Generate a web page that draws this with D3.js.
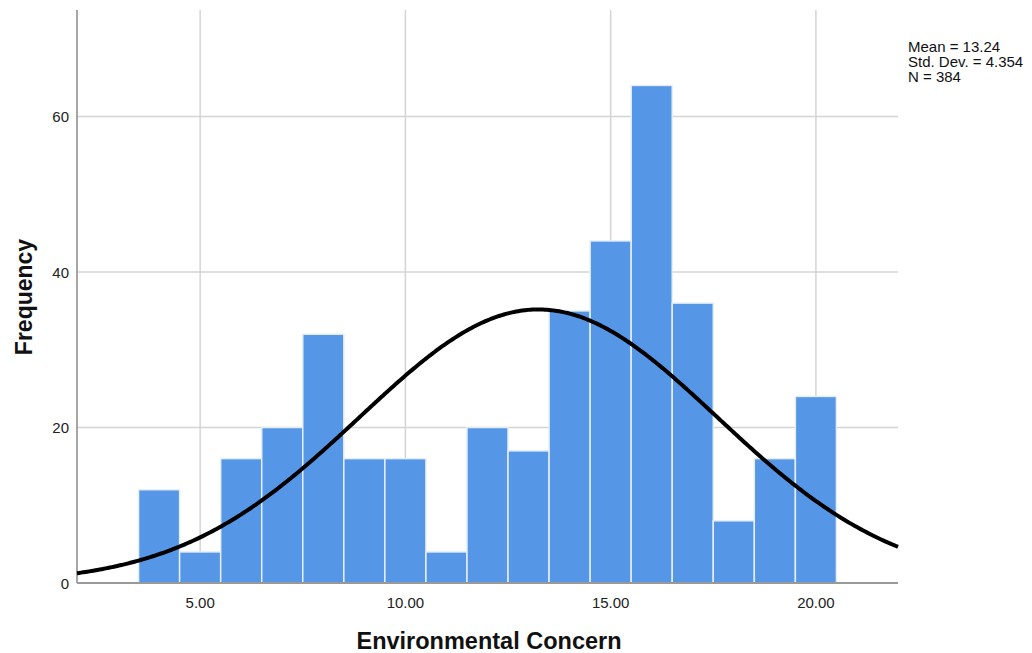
<!DOCTYPE html>
<html><head><meta charset="utf-8">
<script src="https://cdn.jsdelivr.net/npm/d3@7"></script>
<style>body{margin:0;background:#fff}</style>
</head><body>
<svg id="c" width="1032" height="653"></svg>
<script>
const binCenters = [4,5,6,7,8,9,10,11,12,13,14,15,16,17,18,19,20];
const frequencies = [12,4,16,20,32,16,16,4,20,17,35,44,64,36,8,16,24];
const xTicks = [5,10,15,20];
const yTicks = [0,20,40,60];
const meanVal = 13.24, sdVal = 4.354, nVal = 384;
const statsLines = ["Mean = 13.24","Std. Dev. = 4.354","N = 384"];

const svg = d3.select("#c");
const L=77, R=898, T=10, B=583;
const x = d3.scaleLinear().domain([2,22]).range([L,R]);
const y = d3.scaleLinear().domain([0,73.7]).range([B,T]);
const font = "'Liberation Sans', Arial, sans-serif";

// grid
svg.append("g").selectAll("line").data(xTicks).join("line")
  .attr("x1",d=>x(d)).attr("x2",d=>x(d)).attr("y1",T).attr("y2",B)
  .attr("stroke","#d4d4d4").attr("stroke-width",1.5);
svg.append("g").selectAll("line").data(yTicks.filter(d=>d>0)).join("line")
  .attr("x1",L).attr("x2",R).attr("y1",d=>y(d)).attr("y2",d=>y(d))
  .attr("stroke","#d4d4d4").attr("stroke-width",1.5);

// bars
svg.append("g").selectAll("rect").data(binCenters).join("rect")
  .attr("x",d=>x(d-0.5)).attr("width",d=>x(d+0.5)-x(d-0.5))
  .attr("y",(d,i)=>y(frequencies[i])).attr("height",(d,i)=>B-y(frequencies[i]))
  .attr("fill","#5596e6").attr("stroke","#e6eef8").attr("stroke-width",1.5);

// axes lines
svg.append("line").attr("x1",L).attr("x2",L).attr("y1",T).attr("y2",B).attr("stroke","#888").attr("stroke-width",1.5);
svg.append("line").attr("x1",L).attr("x2",R).attr("y1",B).attr("y2",B).attr("stroke","#999").attr("stroke-width",2);

// normal curve
const pdf = v => nVal*1/(sdVal*Math.sqrt(2*Math.PI))*Math.exp(-0.5*((v-meanVal)/sdVal)**2);
const pts = d3.range(2,22.001,0.05);
svg.append("path").datum(pts)
  .attr("d", d3.line().x(d=>x(d)).y(d=>y(pdf(d))).curve(d3.curveBasis))
  .attr("fill","none").attr("stroke","#000").attr("stroke-width",4);

// tick labels
svg.append("g").selectAll("text").data(yTicks).join("text")
  .attr("x",69).attr("y",d=>y(d)+5.5).attr("text-anchor","end")
  .attr("font-family",font).attr("font-size",15).attr("fill","#222").text(d=>d);
svg.append("g").selectAll("text").data(xTicks).join("text")
  .attr("x",d=>x(d)).attr("y",608).attr("text-anchor","middle")
  .attr("font-family",font).attr("font-size",15).attr("fill","#222").text(d=>d.toFixed(2));

// titles
svg.append("text").attr("x",489).attr("y",649).attr("text-anchor","middle")
  .attr("font-family",font).attr("font-size",23.5).attr("font-weight","bold").attr("fill","#111")
  .text("Environmental Concern");
svg.append("text").attr("transform","translate(32,297) rotate(-90)").attr("text-anchor","middle")
  .attr("font-family",font).attr("font-size",23).attr("font-weight","bold").attr("fill","#111")
  .text("Frequency");

// stats
svg.append("g").selectAll("text").data(statsLines).join("text")
  .attr("x",908).attr("y",(d,i)=>52+i*15)
  .attr("font-family",font).attr("font-size",15).attr("fill","#111").text(d=>d);
</script>
</body></html>
